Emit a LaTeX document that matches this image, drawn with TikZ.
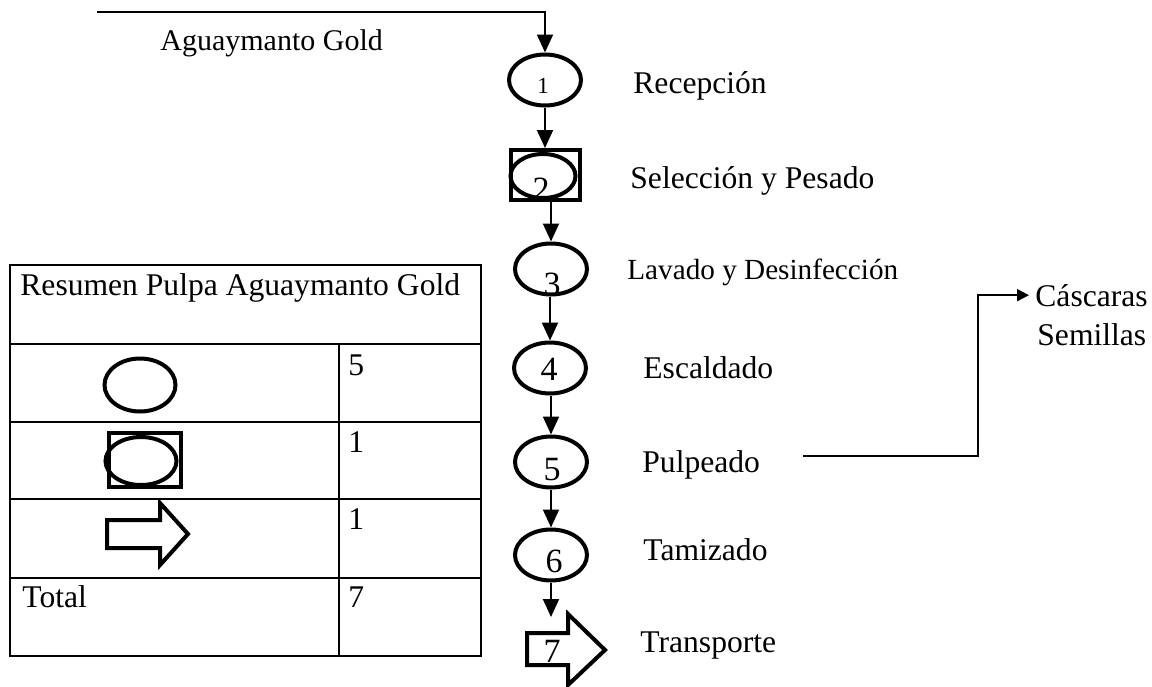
\documentclass[tikz,border=0pt]{standalone}
\usepackage{fontspec}
\setmainfont{Liberation Serif}
\usetikzlibrary{shapes.geometric,arrows.meta}

\begin{document}
\begin{tikzpicture}[x=0.5pt,y=-0.5pt,
    txt/.style={anchor=base west,inner sep=0pt,font=\fontsize{15.8}{19}\selectfont},
    dig/.style={anchor=base,inner sep=0pt,font=\fontsize{17}{20}\selectfont},
    op/.style={ellipse,draw,line width=2pt,minimum width=36pt,minimum height=25.5pt,inner sep=0pt},
    insp/.style={rectangle,draw,line width=2pt,inner sep=0pt},
    flujo/.style={line width=1pt,-{Triangle[length=9pt,width=8pt]}},
    tabla/.style={line width=1pt}]
            \useasboundingbox (0,0) rectangle (1152,686);

            \node[op] (e1) at (545,80) {};
            \node[insp,minimum width=34.5pt,minimum height=25pt] (e2) at (545,175) {};
            \node[op,minimum width=32.5pt,minimum height=22pt] (e2i) at (543,176) {};
            \node[op] (e3) at (551,269) {};
            \node[op] (e4) at (550,368) {};
            \node[op] (e5) at (551,462) {};
            \node[op] (e6) at (551,555) {};
            \draw[line width=2pt,line join=miter] (527,633) -- (568,633) -- (568,614) -- (605,650) -- (568,685) -- (568,665) -- (527,665) -- cycle;

            \node[dig,font=\fontsize{11.5}{13}\selectfont] (d1) at (543,93) {1};
            \node[dig] (d2) at (541,200) {2};
            \node[dig] (d3) at (552,295) {3};
            \node[dig] (d4) at (549,380) {4};
            \node[dig] (d5) at (552,480) {5};
            \node[dig] (d6) at (554,572) {6};
            \node[dig] (d7) at (552,662) {7};

            \coordinate (ent) at (97,12);
            \coordinate (t7) at (551,617);
            \draw[flujo] (ent) -| (e1.north);
            \draw[flujo] (e1.south) -- (e2.north);
            \draw[flujo] (e2.south -| e3.north) -- (e3.north);
            \draw[flujo] (e3.south -| e4.north) -- (e4.north);
            \draw[flujo] (e4.south -| e5.north) -- (e5.north);
            \draw[flujo] (e5.south) -- (e6.north);
            \draw[flujo] (e6.south) -- (t7);

            \node[txt,font=\fontsize{15}{18}\selectfont] (mp) at (160,50) {Aguaymanto Gold};
            \node[txt] (l1) at (633,93) {Recepción};
            \node[txt] (l2) at (630,188) {Selección y Pesado};
            \node[txt,font=\fontsize{14.6}{18}\selectfont] (l3) at (627,279) {Lavado y Desinfección};
            \node[txt] (l4) at (643,378) {Escaldado};
            \node[txt] (l5) at (642,472) {Pulpeado};
            \node[txt] (l6) at (643,560) {Tamizado};
            \node[txt] (l7) at (640,652) {Transporte};
            \node[txt] (cas) at (1035,306) {Cáscaras};
            \node[txt] (sem) at (1037,345) {Semillas};

            \coordinate (sal) at (803,456);
            \coordinate (codo) at (978,456);
            \draw[line width=1pt,-{Triangle[length=6pt,width=6pt]},shorten >=3pt] (sal) -- (codo) |- (cas.west);

            \draw[tabla] (10,265) rectangle (481,656);
            \foreach \y in {344,422,499,578}
                \draw[tabla] (10,\y) -- (481,\y);
            \draw[tabla] (339,344) -- (339,656);
            \node[txt] (tit) at (20,295) {Resumen Pulpa Aguaymanto Gold};
            \node[txt] (n1) at (348,375) {5};
            \node[txt] (n2) at (348,452) {1};
            \node[txt] (n3) at (348,529) {1};
            \node[txt] (tot) at (22,607) {Total};
            \node[txt] (n4) at (348,607) {7};

            \node[op,minimum width=35.5pt,minimum height=26.5pt] (s1) at (140,385) {};
            \node[insp,minimum width=36pt,minimum height=27pt] (s2) at (145,460) {};
            \node[op,minimum width=35.5pt,minimum height=24pt] (s2i) at (141,461) {};
            \draw[line width=2pt,line join=miter] (107,520) -- (160,520) -- (160,503) -- (188,534) -- (160,565) -- (160,548) -- (107,548) -- cycle;
        \end{tikzpicture}
\end{document}
